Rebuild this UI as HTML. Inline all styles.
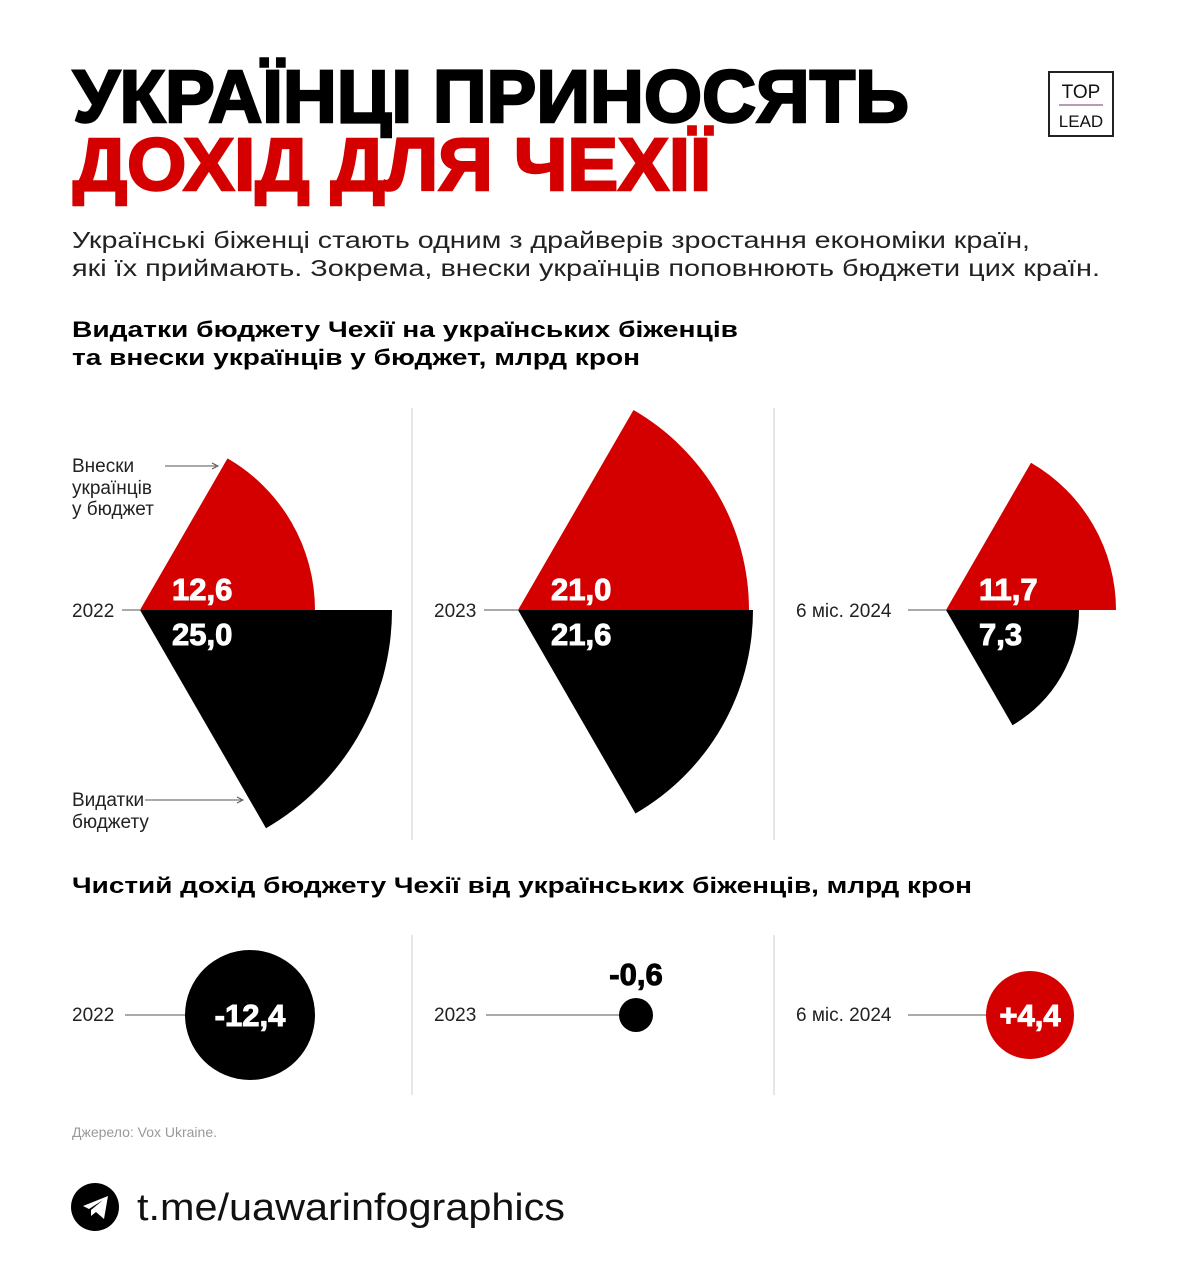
<!DOCTYPE html>
<html><head><meta charset="utf-8"><style>
html,body{margin:0;padding:0;background:#fff;}
svg{display:block;font-family:"Liberation Sans",sans-serif;}
</style></head><body>
<svg width="1186" height="1280" viewBox="0 0 1186 1280" xmlns="http://www.w3.org/2000/svg">
<rect width="1186" height="1280" fill="#fff"/>
<text x="73" y="122" font-size="74" font-weight="900" fill="#000" stroke="#000" stroke-width="2.5" textLength="836" lengthAdjust="spacingAndGlyphs">УКРАЇНЦІ ПРИНОСЯТЬ</text>
<text x="73" y="190" font-size="74" font-weight="900" fill="#d40000" stroke="#d40000" stroke-width="2.5" textLength="638" lengthAdjust="spacingAndGlyphs">ДОХІД ДЛЯ ЧЕХІЇ</text>
<rect x="1049" y="72" width="64" height="64" fill="none" stroke="#222" stroke-width="2"/>
<text x="1081" y="98" font-size="19" text-anchor="middle" fill="#111">TOP</text>
<line x1="1059" y1="105" x2="1103" y2="105" stroke="#a07898" stroke-width="1.5"/>
<text x="1081" y="127" font-size="17" text-anchor="middle" fill="#111">LEAD</text>
<text x="72" y="248" font-size="23" fill="#222" textLength="958" lengthAdjust="spacingAndGlyphs">Українські біженці стають одним з драйверів зростання економіки країн,</text>
<text x="72" y="276" font-size="23" fill="#222" textLength="1028" lengthAdjust="spacingAndGlyphs">які їх приймають. Зокрема, внески  українців поповнюють бюджети цих країн.</text>
<text x="72" y="337" font-size="22" font-weight="bold" fill="#000" textLength="666" lengthAdjust="spacingAndGlyphs">Видатки бюджету Чехії на українських біженців</text>
<text x="72" y="365" font-size="22" font-weight="bold" fill="#000" textLength="568" lengthAdjust="spacingAndGlyphs">та внески українців у бюджет, млрд крон</text>
<line x1="412" y1="408" x2="412" y2="840" stroke="#ccc" stroke-width="1"/>
<line x1="774" y1="408" x2="774" y2="840" stroke="#ccc" stroke-width="1"/>
<line x1="412" y1="935" x2="412" y2="1095" stroke="#ccc" stroke-width="1"/>
<line x1="774" y1="935" x2="774" y2="1095" stroke="#ccc" stroke-width="1"/>
<path d="M140 610 L315 610 A175 175 0 0 0 227.5 458.4 Z" fill="#d40000"/>
<path d="M140 610 L392 610 A252 252 0 0 1 266 828.2 Z" fill="#000"/>
<path d="M518 610 L749 610 A231 231 0 0 0 633.5 410 Z" fill="#d40000"/>
<path d="M518 610 L753 610 A235 235 0 0 1 635.5 813.5 Z" fill="#000"/>
<path d="M946 610 L1116 610 A170 170 0 0 0 1031 462.8 Z" fill="#d40000"/>
<path d="M946 610 L1079 610 A133 133 0 0 1 1012.5 725.2 Z" fill="#000"/>
<g font-size="31" font-weight="bold" fill="#fff" stroke="#fff" stroke-width="1">
<text x="172" y="600">12,6</text><text x="172" y="645">25,0</text>
<text x="551" y="600">21,0</text><text x="551" y="645">21,6</text>
<text x="979" y="600">11,7</text><text x="979" y="645">7,3</text>
</g>
<g font-size="19" fill="#222">
<text x="72" y="617">2022</text><text x="434" y="617">2023</text><text x="796" y="617">6 міс. 2024</text>
<text x="72" y="472">Внески</text><text x="72" y="494">українців</text><text x="72" y="515">у бюджет</text>
<text x="72" y="806">Видатки</text><text x="72" y="828">бюджету</text>
</g>
<g stroke="#555" stroke-width="1">
<line x1="122" y1="610" x2="140" y2="610"/><line x1="484" y1="610" x2="518" y2="610"/><line x1="908" y1="610" x2="946" y2="610"/>
<line x1="165" y1="466" x2="216" y2="466"/><line x1="145" y1="800" x2="241" y2="800"/>
</g>
<path d="M212 463 L218 466 L212 469" fill="none" stroke="#555"/>
<path d="M237 797 L243 800 L237 803" fill="none" stroke="#555"/>
<text x="72" y="893" font-size="22" font-weight="bold" fill="#000" textLength="900" lengthAdjust="spacingAndGlyphs">Чистий дохід бюджету Чехії від українських біженців, млрд крон</text>
<g font-size="19" fill="#222">
<text x="72" y="1021">2022</text><text x="434" y="1021">2023</text><text x="796" y="1021">6 міс. 2024</text>
</g>
<g stroke="#555" stroke-width="1">
<line x1="125" y1="1015" x2="186" y2="1015"/><line x1="486" y1="1015" x2="620" y2="1015"/><line x1="908" y1="1015" x2="986" y2="1015"/>
</g>
<circle cx="250" cy="1015" r="65" fill="#000"/>
<circle cx="636" cy="1015" r="17" fill="#000"/>
<circle cx="1030" cy="1015" r="44" fill="#d40000"/>
<g font-size="31" font-weight="bold" text-anchor="middle" stroke-width="1">
<text x="250" y="1026" fill="#fff" stroke="#fff">-12,4</text>
<text x="636" y="985" fill="#000" stroke="#000">-0,6</text>
<text x="1030" y="1026" fill="#fff" stroke="#fff">+4,4</text>
</g>
<text x="72" y="1137" font-size="14" fill="#999">Джерело: Vox Ukraine.</text>
<circle cx="95" cy="1207" r="24" fill="#000"/>
<path d="M83 1206 L108 1196 L104 1219 L96 1212 L91 1216 L91 1210 L103 1200 L89 1209 Z" fill="#fff"/>
<text x="137" y="1220" font-size="38" fill="#111" textLength="428" lengthAdjust="spacingAndGlyphs">t.me/uawarinfographics</text>
</svg>
</body></html>
